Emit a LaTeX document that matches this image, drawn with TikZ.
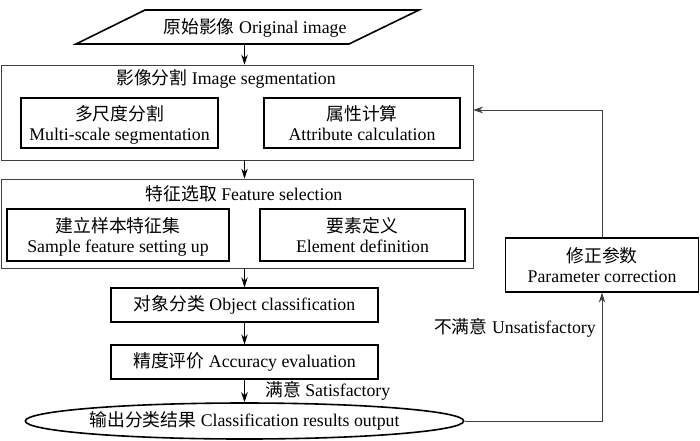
\documentclass[tikz,border=0pt]{standalone}
\usepackage{fontspec}
\setmainfont{Liberation Serif}
\newfontfamily\cjk[Scale=1.0]{Noto Sans CJK SC}
\usetikzlibrary{arrows.meta,shapes.geometric,calc}
\newcommand\twoline[2]{\raisebox{-3pt}[\height][\depth]{\begin{tabular}{@{}c@{}}{\cjk #1}\\#2\end{tabular}}}
\begin{document}
\begin{tikzpicture}[x=1pt,y=-1pt,
  every node/.style={font=\fontsize{17.8}{20.5}\selectfont, inner sep=0pt},
  outerbox/.style={draw=black!75, line width=0.8pt, rectangle},
  innerbox/.style={draw, line width=1.6pt, rectangle},
  stepbox/.style={draw, line width=1.3pt, rectangle},
  flow/.style={line width=0.8pt, -{Stealth[length=10pt,width=6.5pt]}},
  fb/.style={draw=black!75, line width=0.8pt, -{Stealth[length=10pt,width=6.5pt]}}]
\useasboundingbox (0,0) rectangle (700,440);
% original image parallelogram
\node[minimum width=274pt, minimum height=34pt] (orig) at (247,27) {};
\draw[line width=1.6pt] (145,10) -- (419,10) -- (349,44) -- (76,44) -- cycle;
\node (origt) at (255,27.5) {{\cjk 原始影像} Original image};
% image segmentation
\node[outerbox, minimum width=472pt, minimum height=95pt] (seg) at (237,112.5) {};
\node (segt) at (226,79) {{\cjk 影像分割} Image segmentation};
\node[innerbox, minimum width=197pt, minimum height=50pt] (multi) at (119.5,123) {\twoline{多尺度分割}{Multi-scale segmentation}};
\node[innerbox, minimum width=196pt, minimum height=50pt] (attr) at (362,123) {\twoline{属性计算}{Attribute calculation}};
% feature selection
\node[outerbox, minimum width=472pt, minimum height=89pt] (feat) at (237,223.5) {};
\node (featt) at (244,194) {{\cjk 特征选取} Feature selection};
\node[innerbox, minimum width=222pt, minimum height=52pt] (sample) at (118,235) {\twoline{建立样本特征集}{Sample feature setting up}};
\node[innerbox, minimum width=205pt, minimum height=52pt] (elem) at (362.5,235) {\twoline{要素定义}{Element definition}};
% classification / evaluation
\node[stepbox, minimum width=267pt, minimum height=34pt] (obj) at (244.5,305) {{\cjk 对象分类} Object classification};
\node[stepbox, minimum width=267pt, minimum height=34pt] (acc) at (244.5,362) {{\cjk 精度评价} Accuracy evaluation};
\node[ellipse, draw, line width=1.6pt, minimum width=403pt, minimum height=36pt] (out) at (244.5,421) {{\cjk 输出分类结果} Classification results output};
% parameter correction
\node[stepbox, minimum width=193pt, minimum height=54pt] (param) at (602,265) {\twoline{修正参数}{Parameter correction}};
\coordinate (fbend) at (473,110);
% labels
\node[anchor=west] (sat) at (265,391) {{\cjk 满意} Satisfactory};
\node[anchor=east] (unsat) at (596,328) {{\cjk 不满意} Unsatisfactory};
% connectors
\draw[flow] (orig.south -| obj) -- (seg.north -| obj);
\draw[flow] (seg.south -| obj) -- (feat.north -| obj);
\draw[flow] (feat.south -| obj) -- (obj.north);
\draw[flow] (obj.south) -- (acc.north);
\draw[flow] (acc.south) -- (out.north);
\draw[fb] (out.east) -| (param.south);
\draw[fb] (param.north) |- (fbend);
\end{tikzpicture}
\end{document}
